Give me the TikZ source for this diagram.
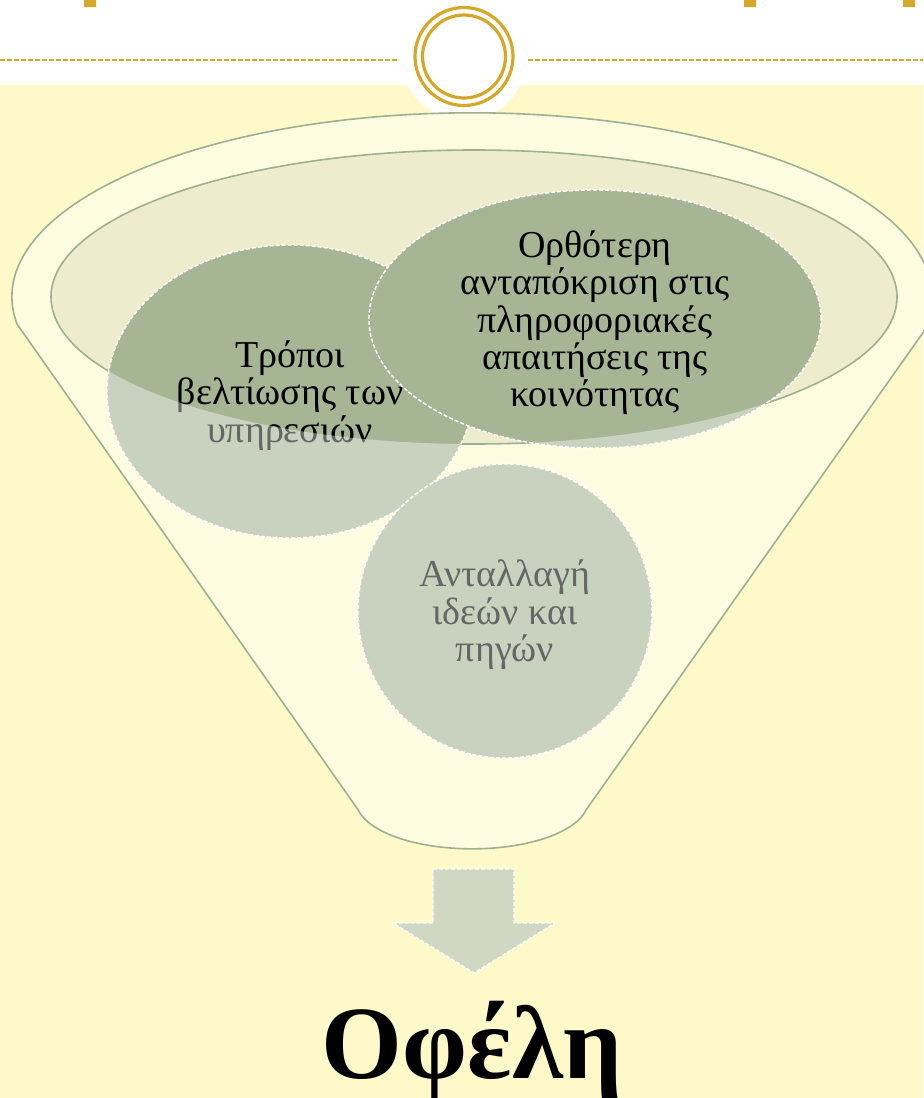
\documentclass[tikz,border=0pt]{standalone}
\usepackage{fontspec}
\setmainfont{Liberation Serif}
\usepackage{tikz}
\usetikzlibrary{shapes.geometric}
\definecolor{bgyellow}{RGB}{253,249,201}
\definecolor{funnelfill}{RGB}{253,252,225}
\definecolor{funnelline}{RGB}{157,176,146}
\definecolor{innerfill}{RGB}{237,237,206}
\definecolor{circdark}{RGB}{166,181,147}
\definecolor{arrowfill}{RGB}{208,216,196}
\definecolor{gold}{RGB}{212,168,40}
% text a little below the middle of its circle
\newcommand{\circtext}[1]{\raisebox{-2.5pt}[\dimexpr\height-3pt\relax][\dimexpr\depth-3pt\relax]{\begin{tabular}{@{}c@{}}#1\end{tabular}}}

\begin{document}
\begin{tikzpicture}[x=0.5pt,y=-0.5pt]
            \useasboundingbox (0,0) rectangle (923,1098);
            \fill[white] (0,0) rectangle (923,85);
            \fill[bgyellow] (0,85) rectangle (923,1098);
            % top band
            \begin{scope}[gold line/.style={draw=gold,line width=0.8pt,dash pattern=on 2.5pt off 1pt}]
            \fill[gold] (84,0) rectangle (96,7) (744,0) rectangle (756,7) (903,0) rectangle (915,7);
            \fill[gold] (461,-1) circle[radius=6.5];
            \draw[gold line] (0,60) -- (398,60);
            \draw[gold line] (528,60) -- (923,60);
            \fill[white] (464,57) circle[radius=63];
            \draw[gold,line width=1.6pt] (464,56.5) circle[radius=49] (464,56.5) circle[radius=41.5];
            \end{scope}
            % funnel
            \begin{scope}[funnel/.style={fill=funnelfill,draw=funnelline,line width=0.8pt},
                main node/.style={ellipse,fill=circdark,draw=white,line width=0.7pt,dash pattern=on 2pt off 1pt,inner sep=0pt,font=\fontsize{19}{17.75}\selectfont}]
            \draw[funnel] (17,324) arc[start angle=171.5,end angle=371,x radius=460,y radius=184]
                -- (586,810) arc[start angle=11,end angle=169,x radius=116,y radius=48] -- cycle;
            \draw[funnel,fill=innerfill] (474,297) ellipse[x radius=423,y radius=147];
            \node[main node,minimum width=183pt,minimum height=146.5pt] (1) at (290,391.5) {\circtext{Τρόποι\\βελτίωσης των\\υπηρεσιών}};
            \node[main node,minimum width=226pt,minimum height=129pt] (2) at (595,319) {\circtext{Ορθότερη\\ανταπόκριση στις\\πληροφοριακές\\απαιτήσεις της\\κοινότητας}};
            \node[main node,minimum width=147pt,minimum height=147pt] (3) at (505,611) {\circtext{Ανταλλαγή\\ιδεών και\\πηγών}};
            \begin{scope}
            \clip (1.center) ellipse[x radius=183,y radius=146.5] (2.center) ellipse[x radius=226,y radius=129] (3.center) circle[radius=147];
            \fill[white,opacity=0.4,even odd rule] (0,0) rectangle (923,1098) (474,297) ellipse[x radius=423,y radius=147];
            \end{scope}
            \end{scope}
            % arrow and result
            \draw[fill=arrowfill,draw=white,line width=0.7pt,dash pattern=on 2pt off 1pt]
                (433,869) -- (514,869) -- (514,923) -- (555,923) -- (474,973) -- (393,923) -- (433,923) -- cycle;
            \node[anchor=base,font=\fontsize{52}{62}\selectfont\bfseries] (4) at (472,1078) {Οφέλη};
\end{tikzpicture}
\end{document}
